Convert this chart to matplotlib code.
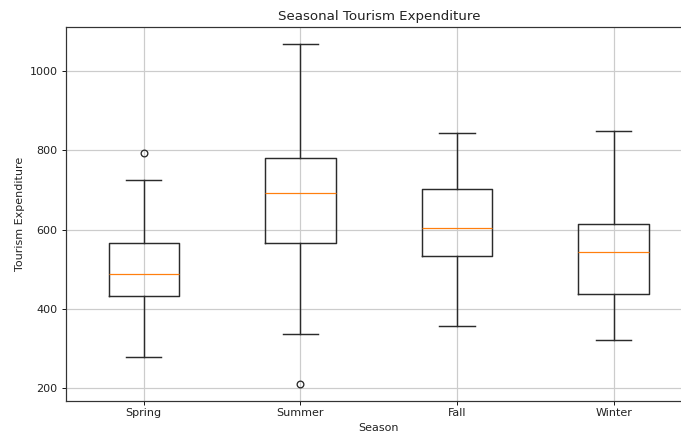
import matplotlib
matplotlib.use('Agg')
import matplotlib.pyplot as plt

# -- Data
seasons = ['Spring', 'Summer', 'Fall', 'Winter']
whislo = [279, 337, 357, 322]
q1 = [434, 566, 534, 438]
medians = [487, 691, 603, 544]
q3 = [566, 781, 701, 613]
whishi = [725, 1068, 842, 847]
fliers = [[792], [212], [], []]

stats = []
for i in range(len(seasons)):
    stats.append({'label': seasons[i], 'whislo': whislo[i], 'q1': q1[i],
                  'med': medians[i], 'q3': q3[i], 'whishi': whishi[i],
                  'fliers': fliers[i]})

# -- Plot
dpi = 80
fig = plt.figure(figsize=(681 / dpi, 436 / dpi), dpi=dpi)
# axes runs past the right edge, like the cropped reference
ax = fig.add_axes([65.5 / 681, 35.3 / 436, 626.5 / 681, 374 / 436])
line_col = '#2b2b2b'
lw = 1.3
ax.bxp(stats, positions=[1, 2, 3, 4], widths=0.45,
       boxprops=dict(color=line_col, linewidth=lw),
       whiskerprops=dict(color=line_col, linewidth=lw),
       capprops=dict(color=line_col, linewidth=lw),
       medianprops=dict(color='#ff7f0e', linewidth=1.1),
       flierprops=dict(markeredgecolor=line_col, markeredgewidth=1.2))
ax.set_title('Seasonal Tourism Expenditure', color='#222222')
ax.set_xlabel('Season', color='#222222')
ax.set_ylabel('Tourism Expenditure', color='#222222')
ax.tick_params(labelcolor='#222222')
ax.grid(True, color='#cccccc', linewidth=1.1)
ax.spines['right'].set_visible(False)
for s in ['left', 'bottom', 'top']:
    ax.spines[s].set_color('#333333')
    ax.spines[s].set_linewidth(1.1)

fig.savefig('out.png', dpi=dpi)
